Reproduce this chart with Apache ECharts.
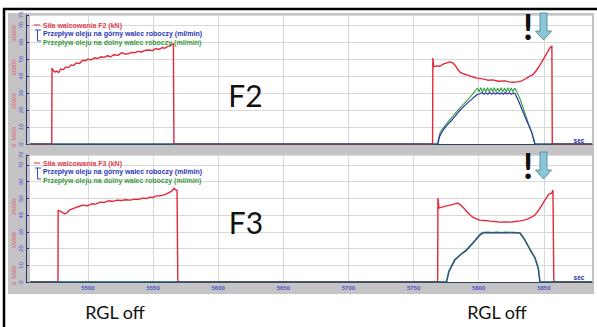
<!DOCTYPE html>
<html>
<head>
<meta charset="utf-8">
<script src="https://cdn.jsdelivr.net/npm/echarts@6.0.0/dist/echarts.min.js"></script>
<style>
html, body { margin: 0; padding: 0; background: #fff; }
#chart { width: 597px; height: 327px; }
</style>
</head>
<body>
<div id="chart"></div>
<script>
// time axis (sec)
const xLabels = [5500, 5550, 5600, 5650, 5700, 5750, 5800, 5850];
const forceLabelsF2 = [0, 5000, 15000, 25000, 35000];
const forceLabelsF3 = [0, 5000, 15000, 25000];

const forceNames = ['Siła walcowania F2 (kN)', 'Siła walcowania F3 (kN)'];
const upperName = 'Przepływ oleju na górny walec roboczy (ml/min)';
const lowerName = 'Przepływ oleju na dolny walec roboczy (ml/min)';

// F2 stand
const f2Force = [[5455.5,0],[5472.2,0],[5472.4,22400],[5473.1,21800],[5474.5,21200],[5476,21500],[5477.5,21000],[5479,22100],[5481,21900],[5483,22700],[5485,22500],[5487,23300],[5489,23100],[5491,23900],[5493.5,23700],[5496,24700],[5498,24500],[5500,25000],[5502.5,24800],[5505,25400],[5507.5,25200],[5510,25700],[5512.5,25500],[5515,26000],[5517.5,25700],[5520,26300],[5523,26100],[5526,26900],[5528.5,26500],[5531,26600],[5533.5,27000],[5536,26900],[5538.5,27300],[5541,27100],[5544,27600],[5547,27700],[5549.5,27500],[5552,28100],[5554.5,27900],[5557,28400],[5559,28200],[5561,28700],[5563,28900],[5564.5,29300],[5565.6,29600],[5566,0],
  [5764.6,0],[5764.8,25300],[5765.5,22700],[5768,23000],[5770.2,22900],[5773,23600],[5775,23800],[5777.9,24200],[5780,23900],[5781.7,23300],[5783.5,22200],[5785.5,21200],[5788,20700],[5791.7,20300],[5795,19800],[5798.6,19400],[5803,19200],[5807,18800],[5810.9,18900],[5815,18500],[5820.1,18600],[5823,18300],[5826.2,18200],[5830,18300],[5833.1,18600],[5835,19000],[5836.9,19400],[5839,19900],[5841.6,20400],[5844.6,21800],[5846.5,22900],[5848.5,24200],[5850.5,25500],[5852.3,26800],[5853.5,27500],[5854.6,28300],[5856.2,28900],[5856.5,0],[5887,0]];
const f2Upper = [[5455.5,0],[5768.7,0],[5770,4.5],[5771.8,7.1],[5775,10.5],[5780,14.6],[5785.6,19.8],[5790,23.2],[5795,26.6],[5798.6,29],[5800.9,29.6],[5802.5,30.3],[5804,29.3],[5805.5,30.2],[5807,29.3],[5808.5,30.3],[5810,29.4],[5811.5,30.2],[5813,29.3],[5814.5,30.3],[5816,29.4],[5817.5,30.2],[5819,29.3],[5820.5,30.3],[5822,29.4],[5823.5,30.2],[5825,29.3],[5826.5,30.1],[5828,29.6],[5831,24.6],[5834,19],[5837,13.4],[5840.6,7.1],[5843.1,0],[5887,0]];
const f2Lower = [[5455.5,0],[5768.3,0],[5770,6],[5772,8.6],[5776,12.6],[5781,17.2],[5786,21.6],[5791,25.6],[5795,29.1],[5797.5,31.4],[5799,33],[5800.3,30.8],[5801.6,33.1],[5802.9,30.7],[5804.2,33],[5805.5,30.8],[5806.8,33.2],[5808.1,30.7],[5809.4,33],[5810.7,30.8],[5812,33.1],[5813.3,30.7],[5814.6,33],[5815.9,30.8],[5817.2,33.2],[5818.5,30.7],[5819.8,33],[5821.1,30.8],[5822.4,33.1],[5823.7,30.7],[5825,33],[5826.3,30.8],[5827.6,32.9],[5829,31.2],[5832,26.1],[5835,19.3],[5838,12.6],[5841,6.4],[5843.3,0],[5887,0]];

// F3 stand
const f3Force = [[5455.5,0],[5477,0],[5477.1,21500],[5480,20900],[5482,20400],[5483.9,20700],[5486,21600],[5488,21900],[5490,22200],[5493,22600],[5496.2,23000],[5499.5,22800],[5503,23400],[5506,23300],[5509.2,23900],[5512.5,23800],[5516,24300],[5519,24100],[5522.3,24500],[5525.5,24400],[5529,24600],[5532.5,24500],[5536.1,24800],[5539,24700],[5542,25100],[5545,25000],[5547.6,25400],[5550,25300],[5552,25700],[5555,25800],[5557.6,26000],[5560,26300],[5562.9,26900],[5565,27400],[5566,28100],[5567.2,27600],[5568.4,27500],[5569,0],
  [5768.5,0],[5768.7,25100],[5769.5,22100],[5771.7,22400],[5774.5,22700],[5777.9,23000],[5781,23300],[5784,23600],[5786.3,23000],[5788.6,22100],[5791,21000],[5793.2,20100],[5795,19500],[5797.1,19100],[5800.9,18500],[5804.5,18400],[5808.6,18200],[5812.5,18100],[5816.3,17900],[5820,18000],[5824,17900],[5828,18100],[5831.7,18300],[5835,18500],[5837.8,18900],[5840.5,19400],[5843.1,20000],[5845,20900],[5847,22100],[5849,23300],[5850.8,24500],[5852.5,25500],[5853.9,26300],[5856.2,26600],[5857,27500],[5857.7,0],[5887,0]];
const f3Upper = [[5455.5,0],[5775.3,0],[5777.1,6.2],[5779.4,9.8],[5781.7,13.2],[5786,16.3],[5790.7,19.1],[5796.3,23.9],[5800.9,28.1],[5803.2,29.4],[5806,29.6],[5810,29.4],[5814,29.6],[5818,29.4],[5822,29.6],[5826,29.4],[5829,29.5],[5831.7,29.3],[5835.5,25.1],[5839.3,19.6],[5843.1,14.6],[5845.7,8.4],[5847,0],[5887,0]];
const f3Lower = [[5455.5,0],[5775.1,0],[5777,6.6],[5779.3,10.2],[5781.6,13.6],[5786,16.6],[5790.6,19.5],[5796.2,24.3],[5800.7,28.5],[5803,29.8],[5805,29.5],[5808,30],[5811,29.5],[5814,30],[5817,29.5],[5820,30],[5823,29.5],[5826,30],[5829,29.6],[5831.9,29.4],[5835.7,24.9],[5839.5,19.2],[5843.3,14.2],[5845.9,8.1],[5847.2,0],[5887,0]];

const RED = '#e3283a';
const BLUE = '#2a36a8';
const GREEN = '#34a03c';
const GRID = '#d8d8d8';

let chart = echarts.init(document.getElementById('chart'), null, { renderer: 'svg' });

function plain(v) {
  return String(v);
}
function xAxisFor(i) {
  return {
    type: 'value', gridIndex: i, min: 5455.5, max: 5887,
    axisLine: { show: true, lineStyle: { color: '#34405a', width: 1 } },
    axisTick: { show: false, customValues: xLabels },
    axisLabel: { show: i === 1, customValues: xLabels, formatter: plain, color: '#4a55c8', fontSize: 6, fontWeight: 'bold', margin: 3, fontFamily: 'Liberation Sans' },
    splitLine: { show: true, lineStyle: { color: GRID } }
  };
}
function flowAxisFor(i) {
  return {
    type: 'value', gridIndex: i, position: 'left', offset: 4, min: 0, max: 76, interval: 10,
    axisLine: { show: true, lineStyle: { color: '#2a3470' } },
    axisTick: { show: true, inside: true, length: 3, lineStyle: { color: '#2a3470' } },
    axisLabel: { rotate: 90, fontSize: 6, color: '#4a55c8', margin: 2, fontFamily: 'Liberation Sans' },
    splitLine: { show: true, lineStyle: { color: GRID } }
  };
}
function forceAxisFor(i, labels) {
  return {
    type: 'value', gridIndex: i, position: 'left', offset: 11, min: 0, max: 38000,
    axisLine: { show: false }, axisTick: { show: false }, splitLine: { show: false },
    axisLabel: { customValues: labels, formatter: plain, rotate: 90, fontSize: 6, color: '#e05a68', margin: 2, align: 'right', verticalAlign: 'bottom', fontFamily: 'Liberation Sans' }
  };
}
function line(name, data, xi, yi, color, width, opacity) {
  return {
    name: name, type: 'line', xAxisIndex: xi, yAxisIndex: yi, data: data,
    showSymbol: false, symbol: 'none', animation: false,
    lineStyle: { color: color, width: width, opacity: opacity || 1 },
    itemStyle: { color: color }
  };
}
function txt(text, x, y, fill, size, weight, family, align, valign) {
  return {
    type: 'text', z: 50, style: {
      text: text, x: x, y: y, fill: fill, fontSize: size, fontWeight: weight || 'normal',
      fontFamily: family || 'Liberation Sans', align: align || 'left', verticalAlign: valign || 'middle'
    }
  };
}
function seg(x1, y1, x2, y2, color, w) {
  return { type: 'line', z: 50, shape: { x1: x1, y1: y1, x2: x2, y2: y2 }, style: { stroke: color, lineWidth: w || 1 } };
}
function legendBlock(top, forceName) {
  return [
    seg(34, top, 40, top, RED, 1),
    txt(forceName, 43, top, '#e0404e', 7, 'bold'),
    seg(35, top + 5, 41, top + 5, '#3a48c0', 1),
    seg(37.5, top + 5, 37.5, top + 16, '#3a48c0', 1),
    seg(37.5, top + 16, 41, top + 16, '#3a48c0', 1),
    txt(upperName, 43, top + 8.5, '#2a36b8', 7, 'bold'),
    txt(lowerName, 43, top + 17, '#3a9a3a', 7, 'bold')
  ];
}
function arrow(top) {
  return {
    type: 'polygon', z: 50,
    shape: { points: [[540, top], [547, top], [547, top + 18], [551.5, top + 18], [543.5, top + 27], [535.5, top + 18], [540, top + 18]] },
    style: { fill: '#8cc6d6', stroke: '#5594aa', lineWidth: 1 }
  };
}

let option = {
  backgroundColor: '#fff',
  animation: false,
  grid: [
    { left: 30, top: 15, width: 562, height: 129 },
    { left: 30, top: 155, width: 562, height: 127 }
  ],
  xAxis: [xAxisFor(0), xAxisFor(1)],
  yAxis: [flowAxisFor(0), forceAxisFor(0, forceLabelsF2), flowAxisFor(1), forceAxisFor(1, forceLabelsF3)],
  series: [
    line(forceNames[0], f2Force, 0, 1, RED, 1.4),
    line(lowerName, f2Lower, 0, 0, GREEN, 1.1),
    line(upperName, f2Upper, 0, 0, BLUE, 1.2),
    line(forceNames[1], f3Force, 1, 3, RED, 1.4),
    line(upperName, f3Upper, 1, 2, '#1f3590', 1.5),
    line(lowerName, f3Lower, 1, 2, '#2f9a3a', 1.3, 0.45)
  ],
  graphic: [].concat(
    [
      { type: 'rect', z: -20, shape: { x: 8, y: 13, width: 586, height: 281 }, style: { fill: '#c4c4c6' } },
      { type: 'rect', z: -10, shape: { x: 30, y: 15, width: 562, height: 129 }, style: { fill: '#fff' } },
      { type: 'rect', z: -10, shape: { x: 30, y: 155, width: 562, height: 127 }, style: { fill: '#fff' } },
      seg(3, 9, 597, 9, '#000', 2.5),
      seg(4, 8, 4, 327, '#000', 2.5)
    ],
    legendBlock(25, forceNames[0]),
    legendBlock(163, forceNames[1]),
    [
      txt('F2', 245.5, 95, '#111', 30, 'normal', 'Lato', 'center'),
      txt('F3', 246, 222, '#111', 30, 'normal', 'Lato', 'center'),
      txt('RGL off', 115, 312, '#111', 18, 'normal', 'Lato', 'center'),
      txt('RGL off', 497, 312, '#111', 18, 'normal', 'Lato', 'center'),
      txt('!', 528, 26, '#111', 36, 'bold', 'Lato', 'center'),
      txt('!', 528, 165, '#111', 36, 'bold', 'Lato', 'center'),
      arrow(13),
      arrow(152),
      txt('sec', 579, 140, '#2a2aa0', 6.5, 'bold', 'Liberation Sans', 'center'),
      txt('sec', 579, 277, '#2a2aa0', 6.5, 'bold', 'Liberation Sans', 'center')
    ]
  )
};
chart.setOption(option);
</script>
</body>
</html>
